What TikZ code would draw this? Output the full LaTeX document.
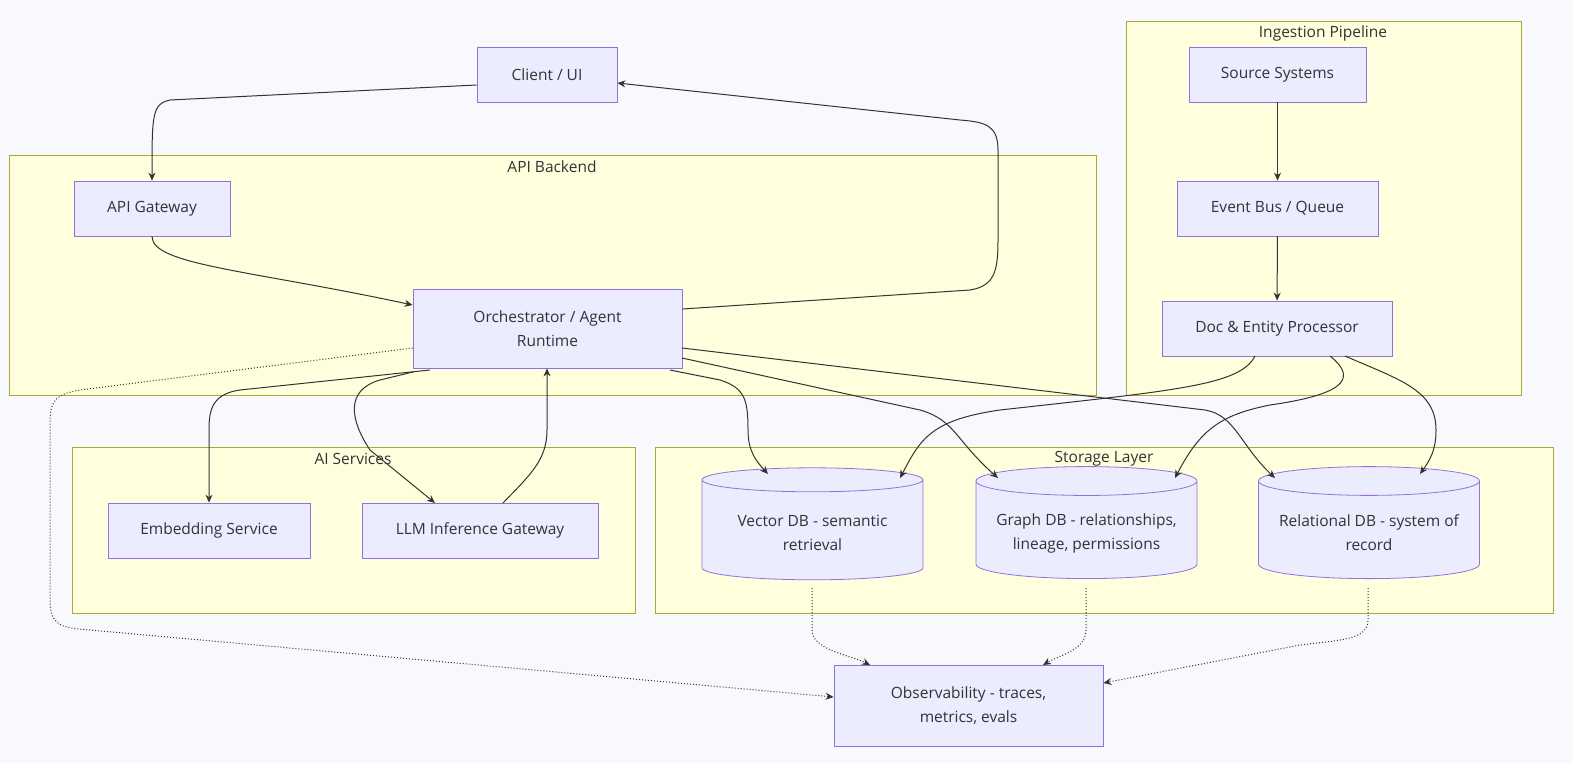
\documentclass[tikz,border=0pt]{standalone}
\usepackage{fontspec}
\setmainfont{Open Sans}
\usetikzlibrary{shapes.geometric,arrows.meta}
\definecolor{bg}{HTML}{F8F9FC}
\definecolor{nfill}{HTML}{ECECFF}
\definecolor{nline}{HTML}{9370DB}
\definecolor{cfill}{HTML}{FFFFDE}
\definecolor{cline}{HTML}{AAAA33}
\definecolor{eline}{HTML}{333333}
\tikzset{
 x=1pt,y=-1pt,
 every node/.style={font=\fontsize{15.5}{24}\selectfont,text=eline},
 box/.style={draw=nline,fill=nfill,line width=0.8pt,inner sep=0pt},
 clus/.style={draw=cline,fill=cfill,line width=0.8pt},
 cyl/.style={cylinder,shape border rotate=90,draw=nline,fill=nfill,line width=0.8pt,aspect=0.16,minimum width=221pt,minimum height=112pt,align=center,inner sep=0pt},
 edge/.style={draw=eline,line width=1pt,-{Stealth[length=8pt,width=7pt]}},
 dedge/.style={edge,dotted},
}
\newcommand{\bx}[5]{\node[box,minimum width={#4-#2},minimum height={#5-#3},align=center] (#1) at ({(#2+#4)/2},{(#3+#5)/2})}
\begin{document}
\begin{tikzpicture}
\useasboundingbox (0,0) rectangle (1573,763);
\clip (0,0) rectangle (1573,763);
\fill[bg] (0,0) rectangle (1573,763);
% clusters
\draw[clus] (9,155) rectangle (1096,395);
\node (lapi) at (552,167) {API Backend};
\draw[clus] (1126,21) rectangle (1521,395);
\node (ling) at (1323,33) {Ingestion Pipeline};
\draw[clus] (72,447) rectangle (635,613);
\node (lai) at (353,459) {AI Services};
\draw[clus] (655,447) rectangle (1553,613);
\node (lst) at (1104,459) {Storage Layer};
% nodes
\bx{client}{477}{47}{617}{102} {Client / UI};
\bx{gw}{74}{181}{230}{236} {API Gateway};
\bx{orch}{413}{289}{682}{368} {Orchestrator / Agent\\Runtime};
\bx{src}{1189}{47}{1366}{102} {Source Systems};
\bx{bus}{1177}{181}{1378}{236} {Event Bus / Queue};
\bx{doc}{1162}{301}{1392}{356} {Doc \& Entity Processor};
\bx{emb}{108}{503}{310}{558} {Embedding Service};
\bx{llm}{362}{503}{598}{558} {LLM Inference Gateway};
\bx{obs}{834}{665}{1103}{746} {Observability - traces,\\metrics, evals};
\node[cyl] (vdb) at (812.5,530) {\\[-6pt]Vector DB - semantic\\retrieval};
\node[cyl] (gdb) at (1086.5,530) {\\[-6pt]Graph DB - relationships,\\lineage, permissions};
\node[cyl] (rdb) at (1369,530) {\\[-6pt]Relational DB - system of\\record};
% edges
\path[edge] (client.west |- 0,85) -- (170,100) .. controls (152,104) and (152,115) .. (gw.north);
\path[edge] (gw.south) .. controls (152,265) and (250,270) .. (orch.west |- 0,305);
\path[edge] (orch.east |- 0,309) -- (970,290) .. controls (995,286) and (998,270) .. (998,240) -- (998,150) .. controls (998,125) and (985,122) .. (960,120) -- (client.east |- 0,83);
\path[edge] (430,370) -- (240,390) .. controls (212,394) and (209,410) .. (209,430) -- (emb.north);
\path[edge] (413,372) -- (380,380) .. controls (345,390) and (350,420) .. (370,450) -- (435,503);
\path[edge] (503,503) .. controls (530,475) and (547,460) .. (547,430) -- (orch.south -| 547,0);
\path[edge] (670,370) -- (720,380) .. controls (745,388) and (748,400) .. (748,430) .. controls (748,450) and (755,460) .. (768,474);
\path[edge] (682,358) -- (920,410) .. controls (955,420) and (955,440) .. (998,478);
\path[edge] (682,348) -- (1205,410) .. controls (1235,415) and (1240,445) .. (1275,478);
\path[dedge] (orch.west |- 0,348) -- (80,390) .. controls (50,395) and (50,405) .. (50,430) -- (50,600) .. controls (50,625) and (60,628) .. (90,630) -- (obs.west |- 0,697);
\path[edge] (src) -- (bus);
\path[edge] (bus) -- (doc);
\path[edge] (1255,356) .. controls (1240,385) and (1180,390) .. (1000,410) .. controls (930,420) and (920,440) .. (900,478);
\path[edge] (1330,356) .. controls (1360,380) and (1340,395) .. (1270,405) .. controls (1220,415) and (1200,430) .. (1175,478);
\path[edge] (1345,356) .. controls (1400,380) and (1436,390) .. (1436,430) .. controls (1436,450) and (1430,460) .. (1420,474);
\path[dedge] (812,588) -- (812,630) .. controls (812,650) and (850,655) .. (870,665);
\path[dedge] (1086,588) -- (1086,630) .. controls (1086,650) and (1060,655) .. (1043,665);
\path[dedge] (1368,588) -- (1368,620) .. controls (1368,640) and (1340,640) .. (1300,645) -- (obs.east |- 0,683);
\end{tikzpicture}
\end{document}
